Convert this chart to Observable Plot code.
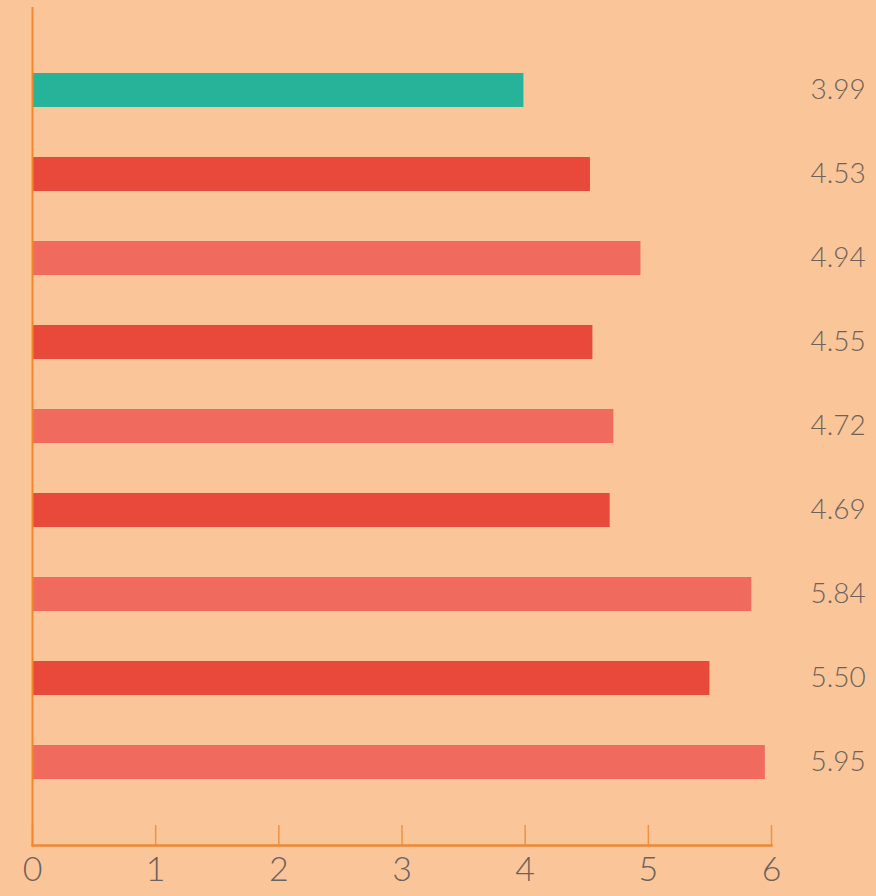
<!DOCTYPE html>
<html>
<head>
<meta charset="utf-8">
<script src="https://cdn.jsdelivr.net/npm/d3@7"></script>
<script src="https://cdn.jsdelivr.net/npm/@observablehq/plot@0.6"></script>
<style>
  html, body { margin: 0; padding: 0; background: #FAC699; }
  #chart svg { display: block; }
</style>
</head>
<body>
<div id="chart"></div>
<script>
const categories = ["1", "2", "3", "4", "5", "6", "7", "8", "9"];
const values = [3.99, 4.53, 4.94, 4.55, 4.72, 4.69, 5.84, 5.50, 5.95];
const groups = ["highlight", "dark", "light", "dark", "light", "dark", "light", "dark", "light"];
const xTicks = [0, 1, 2, 3, 4, 5, 6];

const data = categories.map((c, i) => ({category: c, value: values[i], group: groups[i]}));

const orange = "#F08730";
const textColor = "#6E625B";

const chart = Plot.plot({
  width: 876,
  height: 896,
  marginTop: 7,
  marginBottom: 51,
  marginLeft: 32,
  marginRight: 105,
  style: {background: "#FAC699", fontFamily: "Lato, sans-serif", fontWeight: 300},
  x: {domain: [0, 6], axis: null},
  y: {domain: categories, axis: null, paddingInner: 0.595, paddingOuter: 0.78},
  color: {domain: ["highlight", "dark", "light"], range: ["#26B39A", "#E8493A", "#F06B5E"]},
  marks: [
    Plot.barX(data, {x: "value", y: "category", fill: "group"}),
    Plot.gridX(xTicks, {stroke: orange, strokeOpacity: 0.85, strokeWidth: 1.5, insetTop: 818}),
    Plot.axisX(xTicks, {tickSize: 0, tickPadding: 11, fontSize: 34, fill: textColor, label: null, tickFormat: d => String(d)}),
    Plot.ruleX([0], {stroke: orange, strokeWidth: 2}),
    Plot.frame({anchor: "bottom", stroke: orange, strokeWidth: 2.5}),
    Plot.text(data, {y: "category", text: d => d.value.toFixed(2), frameAnchor: "right", dx: 39, textAnchor: "start", fontSize: 28, fill: textColor})
  ]
});
document.getElementById("chart").append(chart);
</script>
</body>
</html>
